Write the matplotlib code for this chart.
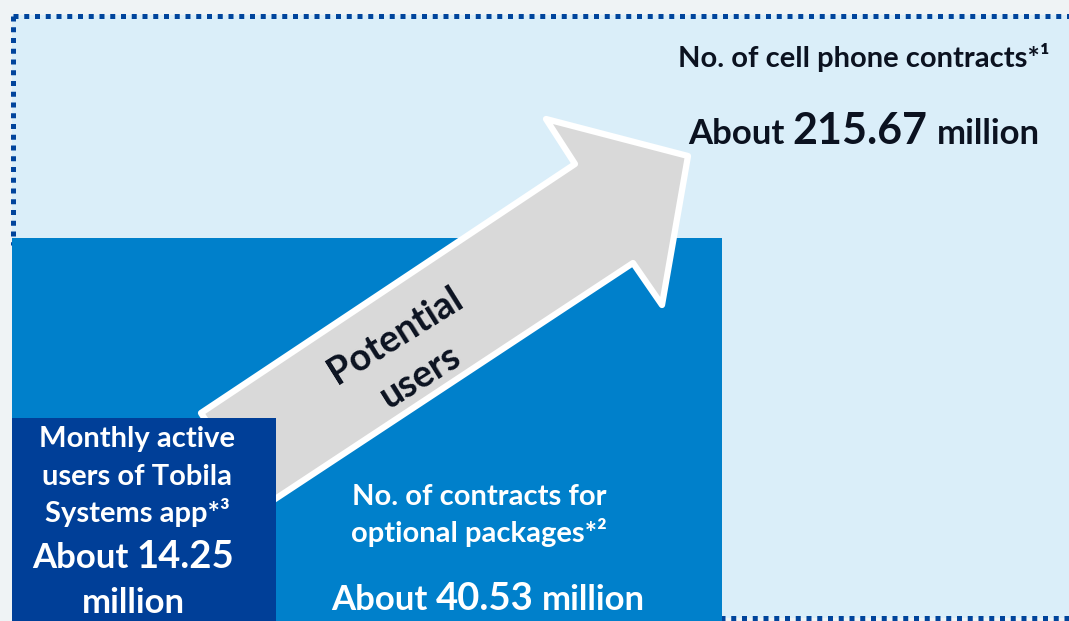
import numpy as np
import matplotlib.pyplot as plt
from matplotlib.patches import Rectangle, Polygon

# values shown on the chart
labels = ["No. of cell phone contracts*\u00b9",
          "No. of contracts for\noptional packages*\u00b2",
          "Monthly active\nusers of Tobila\nSystems app*\u00b3"]
values = [215.67, 40.53, 14.25]
unit = "million"
arrow_label = ["Potential", "users"]

FONT = "Lato"
BG = "#eff3f5"
LIGHT = "#daeef9"
MID = "#0080cb"
DARK = "#003f98"
DOTS = "#00449c"
INK = "#0b1220"

fig = plt.figure(figsize=(10.69, 6.21), dpi=100)
fig.patch.set_facecolor(BG)
ax = fig.add_axes([0, 0, 1, 1])
ax.set_xlim(0, 1069)
ax.set_ylim(621, 0)
ax.set_axis_off()
renderer = fig.canvas.get_renderer()


def mixed_line(cx, base, parts, color):
    """parts: list of (text, size); centred on cx, sitting on baseline base (pixels)"""
    txts, widths = [], []
    for s, size in parts:
        t = ax.text(0, base, s, ha="left", va="baseline", fontsize=size,
                    weight="bold", color=color, family=FONT, zorder=10)
        txts.append(t)
        widths.append(t.get_window_extent(renderer).width)
    gaps = [parts[i][1] * 0.32 for i in range(len(parts) - 1)]
    total = sum(widths) + sum(gaps)
    x = cx - total / 2
    for i, t in enumerate(txts):
        t.set_x(x)
        x += widths[i] + (gaps[i] if i < len(gaps) else 0)


def label_lines(cx, bases, text, color, size=21):
    for line, b in zip(text.split("\n"), bases):
        ax.text(cx, b, line, ha="center", va="baseline", fontsize=size,
                weight="bold", color=color, family=FONT, zorder=10)


# outer area: cell phone contracts
ax.add_patch(Rectangle((12, 15), 1069, 603, facecolor=LIGHT, edgecolor="none", zorder=1))
dot = dict(color=DOTS, lw=3.6, linestyle=(0, (1, 1.15)),
           dash_capstyle="butt", zorder=2)
ax.plot([13, 1069], [15.5, 15.5], **dot)
ax.plot([13, 13], [15.5, 245], **dot)
ax.plot([720, 1069], [618, 618], **dot)

# middle area: optional packages
ax.add_patch(Rectangle((12, 238), 710, 390, facecolor=MID, edgecolor="none", zorder=3))

# arrow
arrow_pts = [(201, 413), (575, 164), (546, 119), (688, 156),
             (662, 305), (633, 263), (263, 507)]
ax.add_patch(Polygon(arrow_pts, closed=True, facecolor="#d9d9d9", edgecolor="white",
                     lw=4.5, joinstyle="round", zorder=4))
ang = 32
perp = np.array([np.sin(np.radians(ang)), np.cos(np.radians(ang))])
centre = np.array([408, 356])
for k, word in zip([-24, 24], arrow_label):
    px, py = centre + k * perp
    ax.text(px, py, word, rotation=ang, ha="center", va="center",
            rotation_mode="anchor", fontsize=27, weight="bold", color=INK,
            family=FONT, zorder=5)

# inner area: app users
ax.add_patch(Rectangle((12, 418), 264, 210, facecolor=DARK, edgecolor="none", zorder=6))

# labels
label_lines(864, [67], labels[0], INK)
mixed_line(864, 144, [("About", 25), (f"{values[0]:.2f}", 31), (unit, 25)], INK)

label_lines(479, [505, 542], labels[1], "white")
mixed_line(488, 610, [("About", 25), (f"{values[1]:.2f}", 27.5), (unit, 25)], "white")

label_lines(137, [447, 485, 522], labels[2], "white")
mixed_line(133, 568, [("About", 25), (f"{values[2]:.2f}", 27.5)], "white")
label_lines(133, [613], unit, "white", size=25)

fig.savefig("out.png", dpi=100, facecolor=BG)
